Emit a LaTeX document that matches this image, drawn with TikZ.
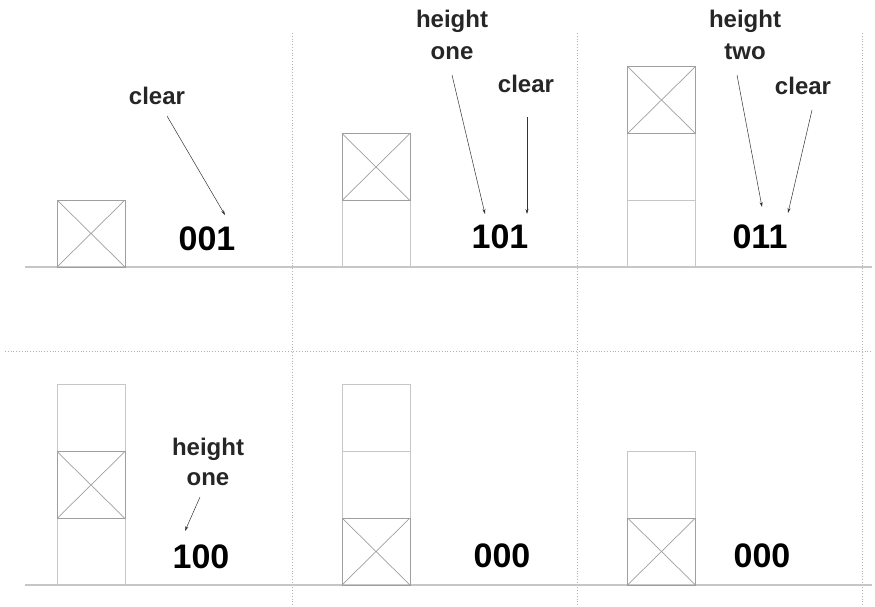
\documentclass[tikz,border=0pt]{standalone}
\usepackage{fontspec}
\setmainfont{Liberation Sans}
\usetikzlibrary{arrows.meta}
\begin{document}
\begin{tikzpicture}[x=1pt,y=-1pt,
  blk/.style={draw=gray!45,line width=0.8pt,minimum width=68pt,minimum height=67pt,inner sep=0pt,outer sep=0pt},
  xblk/.style={blk,draw=gray!75,path picture={\draw[gray!75,line width=0.7pt] (path picture bounding box.north west)--(path picture bounding box.south east) (path picture bounding box.north east)--(path picture bounding box.south west);}},
  lbl/.style={font=\fontsize{24}{28}\selectfont\bfseries,anchor=base,inner sep=0pt,text=black!85},
  num/.style={font=\fontsize{34}{38}\selectfont\bfseries,anchor=base,inner sep=0pt},
  arr/.style={gray!40!black,line width=0.5pt,-{Stealth[length=5pt,width=3pt]}},
  grnd/.style={gray!45,line width=1.8pt},
  sep/.style={gray!60,dotted,line width=0.8pt}]
\useasboundingbox (0,0) rectangle (875,607);
% separators
\draw[sep] (292,33) -- (292,607);
\draw[sep] (577,33) -- (577,607);
\draw[sep] (862,33) -- (862,607);
\draw[sep] (5,351) -- (872,351);
% ground lines
\draw[grnd] (25,267) -- (872,267);
\draw[grnd] (25,585) -- (872,585);
% top row blocks
\node[xblk] (t1a) at (91,233.5) {};
\node[blk] (t2a) at (376,233.5) {};
\node[xblk] (t2b) at (376,167) {};
\node[blk] (t3a) at (661.5,233.5) {};
\node[blk] (t3b) at (661.5,166.5) {};
\node[xblk] (t3c) at (661.5,100) {};
% bottom row blocks
\node[blk] (b1a) at (91,551.5) {};
\node[blk] (b1c) at (91,418) {};
\node[xblk] (b1b) at (91,485) {};
\node[blk] (b2b) at (376,485) {};
\node[blk] (b2c) at (376,418) {};
\node[xblk] (b2a) at (376,551.5) {};
\node[blk] (b3b) at (661.5,485) {};
\node[xblk] (b3a) at (661.5,551.5) {};
% numbers
\node[num] (n1) at (207,250) {001};
\node[num] (n2) at (500,248) {101};
\node[num] (n3) at (760,248) {011};
\node[num] (n4) at (201,568) {100};
\node[num] (n5) at (502,567) {000};
\node[num] (n6) at (762,567) {000};
% labels
\node[lbl] (c1) at (157,105) {clear};
\node[lbl] (h2) at (452,28) {height};
\node[lbl] (o2) at (452,60) {one};
\node[lbl] (c2) at (526,93) {clear};
\node[lbl] (h3) at (745,28) {height};
\node[lbl] (w3) at (745,60) {two};
\node[lbl] (c3) at (803,95) {clear};
\node[lbl] (h4) at (208,455) {height};
\node[lbl] (o4) at (208,485) {one};
% arrow ends
\coordinate (e1) at (225,215);
\coordinate (e2) at (485,214);
\coordinate (e3) at (527,214);
\coordinate (e4) at (762,207);
\coordinate (e5) at (788,213);
\coordinate (e6) at (185,531);
\coordinate (s1) at (167,116);
\coordinate (s2) at (452,75);
\coordinate (s3) at (527,117);
\coordinate (s4) at (737,75);
\coordinate (s5) at (812,110);
\coordinate (s6) at (200,497);
\draw[arr] (s1) -- (e1);
\draw[arr] (s2) -- (e2);
\draw[arr] (s3) -- (e3);
\draw[arr] (s4) -- (e4);
\draw[arr] (s5) -- (e5);
\draw[arr] (s6) -- (e6);
\end{tikzpicture}
\end{document}
